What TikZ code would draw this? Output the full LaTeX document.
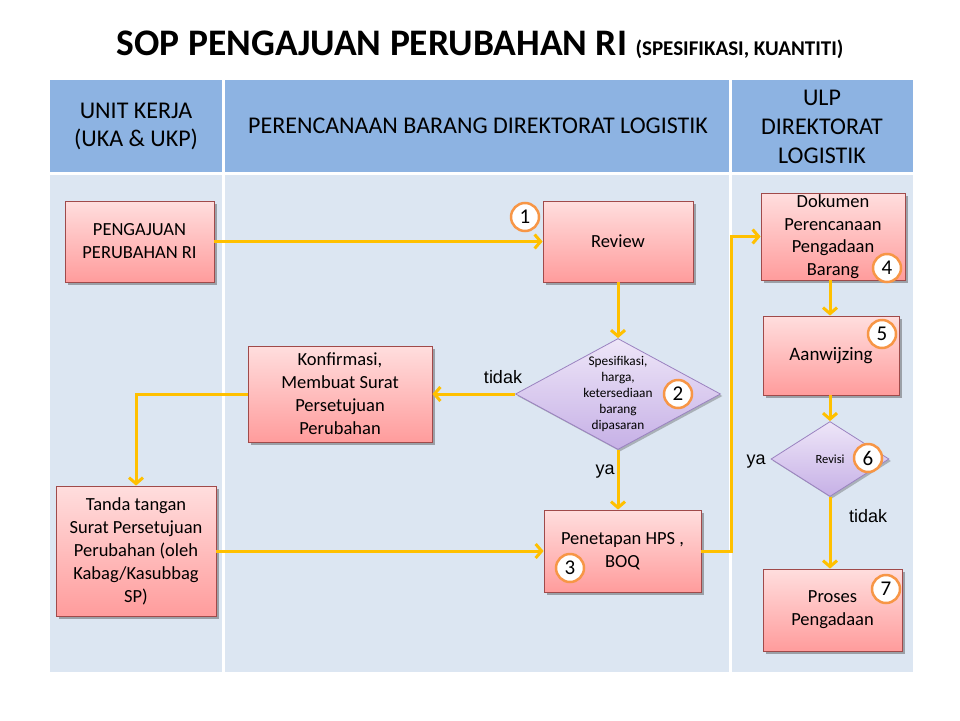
\documentclass[tikz,border=0pt]{standalone}
\usepackage{fontspec}
\setmainfont{Carlito}
\newfontfamily\arialf{Liberation Sans}
\usetikzlibrary{arrows.meta,shapes.geometric,shadows}
\definecolor{hdr}{HTML}{8DB3E2}
\definecolor{bdy}{HTML}{DCE6F2}
\definecolor{arr}{HTML}{FFC000}
\definecolor{numc}{HTML}{F79646}
\definecolor{boxd}{HTML}{A04A4A}
\definecolor{pinkT}{HTML}{FFDEDE}
\definecolor{pinkB}{HTML}{FF9C9C}
\definecolor{diaT}{HTML}{EEE6F8}
\definecolor{diaB}{HTML}{C6B0E6}
\definecolor{diaD}{HTML}{9A82C0}
\tikzset{
  box/.style={rectangle, draw=boxd, line width=0.8pt, top color=pinkT, bottom color=pinkB,
    align=center, inner sep=0pt,
    drop shadow={shadow xshift=2.5pt, shadow yshift=-2.5pt, fill=black!70, opacity=0.45},
    font=\fontsize{18.5}{23}\selectfont},
  dia/.style={diamond, draw=diaD, line width=0.8pt, top color=diaT, bottom color=diaB,
    inner sep=0pt,
    drop shadow={shadow xshift=2pt, shadow yshift=-2pt, fill=black!70, opacity=0.35}},
  num/.style={circle, draw=numc, line width=2.5pt, fill=white, minimum size=28pt,
    inner sep=0pt, font=\fontsize{21}{21}\selectfont},
  flow/.style={draw=arr, line width=3pt, -{Straight Barb[length=6pt,width=14pt]}},
  lbl/.style={font=\arialf\fontsize{18}{18}\selectfont},
  hdrtxt/.style={align=center, font=\fontsize{24}{29}\selectfont}
}
\begin{document}
\begin{tikzpicture}[x=1pt,y=-1pt]
\useasboundingbox (0,0) rectangle (960,720);
\fill[white] (0,0) rectangle (960,720);

% title
\node[font=\bfseries\fontsize{37.5}{42}\selectfont] (title) at (480,45)
  {SOP PENGAJUAN PERUBAHAN RI {\fontsize{21}{24}\selectfont (SPESIFIKASI, KUANTITI)}};

% table
\fill[hdr] (50,80) rectangle (222,172);
\fill[hdr] (225,80) rectangle (729,172);
\fill[hdr] (732,80) rectangle (913,172);
\fill[bdy] (50,175) rectangle (222,672);
\fill[bdy] (225,175) rectangle (729,672);
\fill[bdy] (732,175) rectangle (913,672);

\node[hdrtxt, font=\fontsize{24}{28}\selectfont] (h1) at (136,126) {UNIT KERJA\\(UKA \& UKP)};
\node[hdrtxt] (h2) at (478,126) {PERENCANAAN BARANG DIREKTORAT LOGISTIK};
\node[hdrtxt] (h3) at (822,127) {ULP\\DIREKTORAT\\LOGISTIK};

% boxes
\node[box, minimum width=149pt, minimum height=81pt] (a1) at (139.5,241.5) {PENGAJUAN\\PERUBAHAN RI};
\node[box, minimum width=150pt, minimum height=81pt] (rev) at (618,241.5) {Review};
\node[dia, minimum width=205pt, minimum height=111pt] (d2) at (618,394) {};
\node[align=center, font=\fontsize{13.3}{16}\selectfont] (d2t) at (d2.center) {Spesifikasi,\\harga,\\ketersediaan\\barang\\dipasaran};
\node[box, minimum width=184pt, minimum height=96pt] (konf) at (340,394) {Konfirmasi,\\Membuat Surat\\Persetujuan\\Perubahan};
\node[box, minimum width=160pt, minimum height=130pt] (tt) at (136,551) {Tanda tangan\\Surat Persetujuan\\Perubahan (oleh\\Kabag/Kasubbag\\SP)};
\node[box, minimum width=157pt, minimum height=82pt] (pen) at (622.5,551) {Penetapan HPS ,\\BOQ};
\node[box, minimum width=144pt, minimum height=87pt, font=\fontsize{18.5}{22.5}\selectfont] (dok) at (833,236.5) {Dokumen\\Perencanaan\\Pengadaan\\Barang};
\node[box, minimum width=136pt, minimum height=79pt, font=\fontsize{19}{23}\selectfont] (aan) at (831,355.5) {Aanwijzing};
\node[dia, minimum width=118pt, minimum height=75pt] (rv) at (830,459) {};
\node[font=\fontsize{12.5}{12.5}\selectfont] (rvt) at (rv.center) {Revisi};
\node[box, minimum width=139pt, minimum height=82pt] (pro) at (832.5,610) {Proses\\Pengadaan};

% numbers
\node[num] (n1) at (525,217) {1};
\node[num] (n2) at (678,394) {2};
\node[num] (n3) at (570,568) {3};
\node[num] (n4) at (887,268) {4};
\node[num] (n5) at (882,334) {5};
\node[num] (n6) at (868,458) {6};
\node[num] (n7) at (886,589) {7};

% connectors
\coordinate (bend) at (731,551);
\draw[flow] (a1.east) -- (rev.west);
\draw[flow] (rev.south) -- (d2.north);
\draw[flow] (d2.west) -- (konf.east);
\draw[flow] (konf.west) -| (tt.north);
\draw[flow] (tt.east) -- (pen.west);
\draw[flow] (d2.south) -- (d2.south |- pen.north);
\draw[flow] (pen.east) -- (bend) |- (dok.west);
\draw[flow] (rv.north |- dok.south) -- (rv.north |- aan.north);
\draw[flow] (rv.north |- aan.south) -- (rv.north);
\draw[flow] (rv.south) -- (rv.south |- pro.north);

% labels
\node[lbl] (ltidak1) at (503,377) {tidak};
\node[lbl] (lya1) at (605,472) {ya};
\node[lbl] (lya2) at (756,462) {ya};
\node[lbl] (ltidak2) at (868,516) {tidak};
\end{tikzpicture}
\end{document}
